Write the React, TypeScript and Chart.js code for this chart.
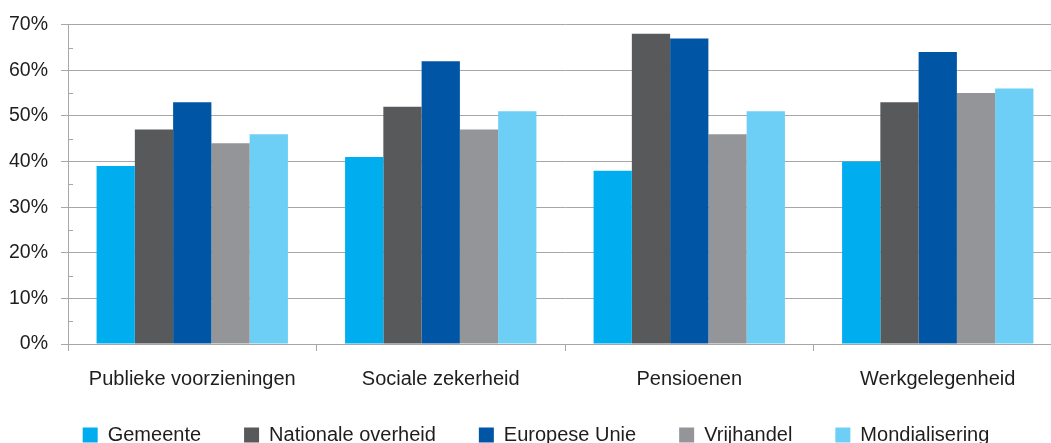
import React, { useEffect, useRef } from "react";
import { Chart, registerables } from "chart.js";

Chart.register(...registerables);

const categories = ["Publieke voorzieningen", "Sociale zekerheid", "Pensioenen", "Werkgelegenheid"];
const seriesNames = ["Gemeente", "Nationale overheid", "Europese Unie", "Vrijhandel", "Mondialisering"];
const gemeente = [39, 41, 38, 40];
const nationaleOverheid = [47, 52, 68, 53];
const europeseUnie = [53, 62, 67, 64];
const vrijhandel = [44, 47, 46, 55];
const mondialisering = [46, 51, 51, 56];
const yMin = 0;
const yMax = 70;
const yStep = 10;

const colors = ["#00AEEF", "#58595B", "#0055A4", "#939598", "#6DCFF6"];
const FONT = "'Liberation Sans', Arial, sans-serif";
const GRID = "#a7a7a7";
const TEXT = "#1e1e1e";

const minorTicks = {
  id: "minorTicks",
  afterDatasetsDraw(chart: any) {
    const y = chart.scales.y;
    const ctx = chart.ctx;
    const ticks = y.ticks;
    ctx.save();
    ctx.strokeStyle = GRID;
    ctx.lineWidth = 1;
    for (let i = 0; i < ticks.length - 1; i++) {
      const mid = (ticks[i].value + ticks[i + 1].value) / 2;
      const py = Math.round(y.getPixelForValue(mid)) + 0.5;
      ctx.beginPath();
      ctx.moveTo(chart.chartArea.left, py);
      ctx.lineTo(chart.chartArea.left + 5, py);
      ctx.stroke();
    }
    ctx.restore();
  },
};

// nudge the legend box so it sits closer to the axis labels
const legendNudge = {
  id: "legendNudge",
  afterLayout(chart: any) {
    const l = chart.legend;
    if (!l) return;
    l.top -= 12;
    l.bottom -= 12;
    l.left += 5;
    l.right += 5;
  },
};

export default function App() {
  const ref = useRef<HTMLCanvasElement>(null);
  useEffect(() => {
    if (!ref.current) return;
    const values = [gemeente, nationaleOverheid, europeseUnie, vrijhandel, mondialisering];
    const chart = new Chart(ref.current, {
      type: "bar",
      data: {
        labels: categories,
        datasets: seriesNames.map((name, i) => ({
          label: name,
          data: values[i],
          backgroundColor: colors[i],
          borderWidth: 0,
          categoryPercentage: 0.77,
          barPercentage: 1,
        })),
      },
      options: {
        animation: false,
        responsive: false,
        devicePixelRatio: 1,
        layout: { padding: { top: 24, left: 0, right: 0, bottom: 0 } },
        plugins: {
          tooltip: { enabled: false },
          legend: {
            position: "bottom",
            labels: {
              boxWidth: 15,
              boxHeight: 15,
              padding: 43,
              color: TEXT,
              font: { family: FONT, size: 20 },
            },
          },
        },
        scales: {
          x: {
            afterFit: (s: any) => {
              s.height = 50;
            },
            grid: {
              display: true,
              drawOnChartArea: false,
              drawTicks: true,
              tickLength: 7,
              color: GRID,
              offset: true,
            },
            border: { color: GRID },
            ticks: {
              color: TEXT,
              padding: 16,
              maxRotation: 0,
              autoSkip: false,
              font: { family: FONT, size: 20 },
            },
          },
          y: {
            min: yMin,
            max: yMax,
            afterFit: (s: any) => {
              s.width = 68;
            },
            grid: { color: GRID, tickLength: 7, drawTicks: true },
            border: { color: GRID },
            ticks: {
              stepSize: yStep,
              padding: 13,
              color: TEXT,
              font: { family: FONT, size: 19.5 },
              callback: (v: any) => v + "%",
            },
          },
        },
      },
      plugins: [minorTicks, legendNudge],
    });
    return () => chart.destroy();
  }, []);

  return (
    <div
      style={{
        position: "absolute",
        left: 0,
        top: 0,
        width: 1051,
        height: 443,
        overflow: "hidden",
        background: "#fff",
      }}
    >
      <canvas ref={ref} width={1062} height={467} style={{ display: "block" }} />
    </div>
  );
}
